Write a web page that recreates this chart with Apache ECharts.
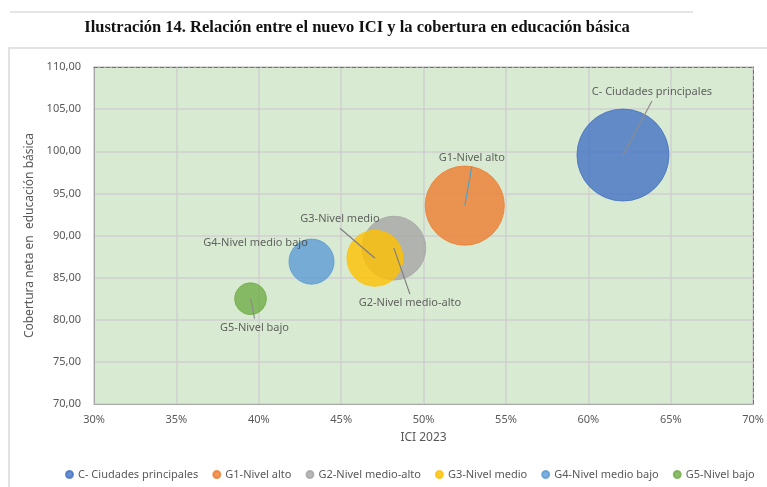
<!DOCTYPE html>
<html>
<head>
<meta charset="utf-8">
<script src="https://cdn.jsdelivr.net/npm/echarts@6/dist/echarts.min.js"></script>
<style>
  html, body { margin: 0; padding: 0; background: #fff; }
  #chart { width: 767px; height: 487px; }
</style>
</head>
<body>
<div id="chart"></div>
<script>
// grupos del ICI
const groups = [
  "C- Ciudades principales",
  "G1-Nivel alto",
  "G2-Nivel medio-alto",
  "G3-Nivel medio",
  "G4-Nivel medio bajo",
  "G5-Nivel bajo",
];
const ici = [62.1, 52.5, 48.2, 47.05, 43.2, 39.5];
const cobertura = [99.55, 93.55, 88.5, 87.3, 86.9, 82.5];
const bubbleSize = [100, 74, 48, 37, 24, 12];
const xTicks = [30, 35, 40, 45, 50, 55, 60, 65, 70];
const yTicks = [70, 75, 80, 85, 90, 95, 100, 105, 110];

const colors = ["#4472C4", "#ED7D31", "#A5A5A5", "#FFC000", "#5B9BD5", "#70AD47"];
// desplazamiento de cada etiqueta respecto a la burbuja
const labelOffset = [
  [29, -63],
  [7, -48],
  [16, 55],
  [-35, -39],
  [-56, -19],
  [4, 29],
];
const lineColor = ["#8c8c8c", "#4fa3c7", "#7f7f7f", "#7f7f7f", null, "#8c8c8c"];

const axisText = {
  color: "#595959",
  fontSize: 11,
  fontFamily: "Noto Sans",
};

const option = {
  animation: false,
  title: {
    text: "Ilustración 14. Relación entre el nuevo ICI y la cobertura en educación básica",
    left: 352,
    textAlign: "center",
    top: 14,
    textStyle: {
      fontFamily: "Liberation Serif",
      fontWeight: "bold",
      fontSize: 16.5,
      color: "#111",
    },
  },
  legend: {
    bottom: 2,
    left: 60,
    icon: "circle",
    itemWidth: 7,
    itemHeight: 7,
    itemGap: 14,
    textStyle: axisText,
    data: groups,
  },
  grid: {
    left: 94,
    right: 10,
    top: 67,
    bottom: 83,
    show: true,
    backgroundColor: "#d9ead3",
    borderWidth: 0,
  },
  xAxis: [
    {
      type: "value",
      min: 30,
      max: 70,
      interval: 5,
      name: "ICI 2023",
      nameLocation: "middle",
      nameGap: 28,
      nameTextStyle: { color: "#595959", fontSize: 12, fontFamily: "Noto Sans" },
      axisLine: { lineStyle: { color: "#a6a6a6", width: 1 } },
      axisTick: { show: false },
      axisLabel: Object.assign({ formatter: "{value}%", margin: 10 }, axisText),
      splitLine: { lineStyle: { color: "#cfcfcf", width: 1.5 } },
    },
    {
      type: "value",
      position: "top",
      min: 30,
      max: 70,
      axisLine: { show: true, lineStyle: { color: "#3d9b3d", type: "dashed", width: 1 } },
      axisTick: { show: false },
      axisLabel: { show: false },
      splitLine: { show: false },
    },
  ],
  yAxis: [
    {
      type: "value",
      min: 70,
      max: 110,
      interval: 5,
      name: "Cobertura neta en  educación básica",
      nameLocation: "middle",
      nameGap: 57,
      nameTextStyle: { color: "#595959", fontSize: 12, fontFamily: "Noto Sans" },
      axisLine: { show: true, lineStyle: { color: "#a6a6a6", width: 1 } },
      axisTick: { show: false },
      axisLabel: Object.assign(
        { formatter: (v) => v.toFixed(2).replace(".", ","), margin: 13 },
        axisText
      ),
      splitLine: { lineStyle: { color: "#cfcfcf", width: 1.5 } },
    },
    {
      type: "value",
      position: "right",
      min: 70,
      max: 110,
      axisLine: { show: true, lineStyle: { color: "#3d9b3d", type: "dashed", width: 1 } },
      axisTick: { show: false },
      axisLabel: { show: false },
      splitLine: { show: false },
    },
  ],
  series: groups.map((name, i) => ({
    name: name,
    type: "scatter",
    data: [[ici[i], cobertura[i], bubbleSize[i]]],
    symbolSize: (val) => 92 * Math.sqrt(val[2] / 100),
    itemStyle: {
      color: colors[i],
      opacity: 0.8,
      borderColor: colors[i],
      borderWidth: 1,
    },
    label: {
      show: true,
      formatter: name,
      position: "inside",
      color: "#404040",
      fontSize: 11,
      fontFamily: "Noto Sans",
    },
    labelLayout: { dx: labelOffset[i][0], dy: labelOffset[i][1] },
  })),
};

const myChart = echarts.init(document.getElementById("chart"));
myChart.setOption(option);

// marco y líneas guía desde el centro de cada burbuja hasta su etiqueta
const graphics = [
  {
    type: "line",
    shape: { x1: 10, y1: 12, x2: 693, y2: 12 },
    style: { stroke: "#dcdcdc", lineWidth: 1.5 },
  },
  {
    type: "rect",
    shape: { x: 9, y: 48, width: 770, height: 450 },
    style: { fill: "none", stroke: "#d9d9d9", lineWidth: 1.5 },
  },
];
groups.forEach((name, i) => {
  if (!lineColor[i]) return;
  const c = myChart.convertToPixel({ xAxisIndex: 0, yAxisIndex: 0 }, [ici[i], cobertura[i]]);
  const dy = labelOffset[i][1];
  graphics.push({
    type: "line",
    z: 10,
    shape: {
      x1: c[0],
      y1: c[1],
      x2: c[0] + labelOffset[i][0],
      y2: c[1] + dy - Math.sign(dy) * 9,
    },
    style: { stroke: lineColor[i], lineWidth: 1.2 },
  });
});
myChart.setOption({ graphic: graphics });
</script>
</body>
</html>
